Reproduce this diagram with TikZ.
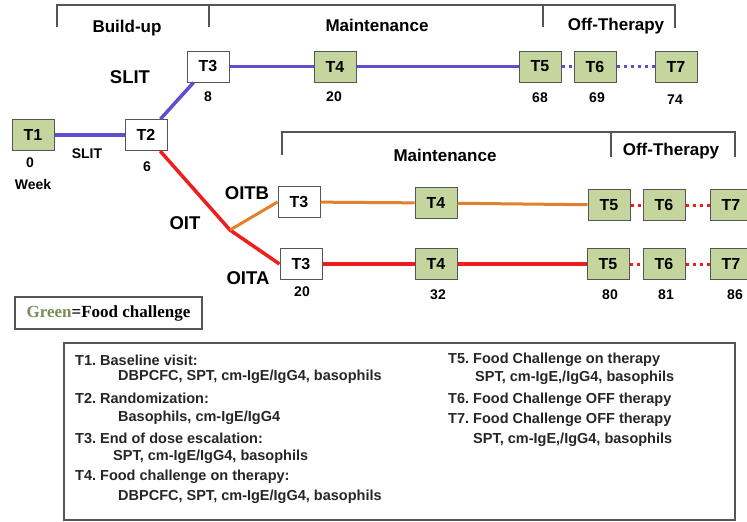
\documentclass[tikz,border=0pt]{standalone}
\usepackage{fontspec}
\setmainfont{Liberation Sans}
\newfontfamily\legendserif{Liberation Serif}
\definecolor{slitblue}{RGB}{92,80,206}
\definecolor{oitred}{RGB}{238,30,30}
\definecolor{oitorange}{RGB}{226,128,46}
\definecolor{fcgreen}{RGB}{196,214,158}
\definecolor{fcword}{RGB}{122,140,90}
\definecolor{framegray}{RGB}{85,85,85}
\frenchspacing
\begin{document}
\begin{tikzpicture}[x=1pt,y=-1pt,
    tbox/.style={draw=framegray,line width=1pt,fill=white,minimum width=42pt,minimum height=31pt,
      inner sep=0pt,font=\fontsize{16}{18}\selectfont\bfseries},
    fcbox/.style={tbox,fill=fcgreen},
    wk/.style={inner sep=1pt,font=\fontsize{14}{16}\selectfont\bfseries},
    arm/.style={inner sep=1pt,font=\fontsize{18.5}{21}\selectfont\bfseries},
    phase/.style={inner sep=1pt,font=\fontsize{17}{20}\selectfont\bfseries},
    note/.style={anchor=west,inner sep=0pt,text=black!85,font=\fontsize{14.5}{17}\selectfont\bfseries},
    bracket/.style={draw=framegray,line width=1.2pt},
    slitline/.style={slitblue,line width=3.5pt},
    slitdots/.style={slitblue,line width=3pt,dash pattern=on 3pt off 4pt},
    redline/.style={oitred,line width=3.5pt},
    orangeline/.style={oitorange,line width=3pt},
    reddots/.style={oitred,line width=3pt,dash pattern=on 3pt off 4pt}]
  \useasboundingbox (0,0) rectangle (747,522);
  \clip (0,0) rectangle (747,522);
  \draw[bracket] (57,27) -- (57,5) -- (675,5) -- (675,28);
  \draw[bracket] (209,5) -- (209,27);
  \draw[bracket] (543,5) -- (543,27);
  \node[phase] (buildup) at (127,28) {Build-up};
  \node[phase] (maint1) at (377,25) {Maintenance};
  \node[phase] (off1) at (616,26) {Off-Therapy};
  \draw[bracket] (282,155) -- (282,132) -- (735,132) -- (735,157);
  \draw[bracket] (611,132) -- (611,157);
  \node[phase] (maint2) at (445,155) {Maintenance};
  \node[phase] (off2) at (671,151) {Off-Therapy};

  \node[fcbox] (T1) at (33,135) {T1};
  \node[tbox] (T2) at (146,135) {T2};
  \node[tbox] (T3s) at (208,66.5) {T3};
  \node[fcbox] (T4s) at (335,66.5) {T4};
  \node[fcbox] (T5s) at (540,66.5) {T5};
  \node[fcbox] (T6s) at (595,66.5) {T6};
  \node[fcbox] (T7s) at (676,66.5) {T7};
  \coordinate (oit) at (230,230);
  \node[tbox] (T3b) at (299,202) {T3};
  \node[fcbox] (T4b) at (436,203) {T4};
  \node[fcbox] (T5b) at (609,205) {T5};
  \node[fcbox] (T6b) at (664,205) {T6};
  \node[fcbox] (T7b) at (731,205) {T7};
  \node[tbox] (T3a) at (301,264) {T3};
  \node[fcbox] (T4a) at (436,264) {T4};
  \node[fcbox] (T5a) at (608,264) {T5};
  \node[fcbox] (T6a) at (664,264) {T6};
  \node[fcbox] (T7a) at (731,264) {T7};

  \draw[slitline] (T1) -- (T2);
  \draw[slitline] (T2) -- (T3s);
  \draw[slitline] (T3s) -- (T4s) -- (T5s);
  \draw[slitdots] (T5s) -- (T6s);
  \draw[slitdots] (T6s) -- (T7s);
  \draw[redline] (T2) -- (oit) -- (T3a.west);
  \draw[orangeline] (oit) -- (T3b.west);
  \draw[orangeline] (T3b) -- (T4b) -- (T5b);
  \draw[reddots] (T5b) -- (T6b);
  \draw[reddots] (T6b) -- (T7b);
  \draw[redline] (T3a) -- (T4a) -- (T5a);
  \draw[reddots] (T5a) -- (T6a);
  \draw[reddots] (T6a) -- (T7a);

  \node[wk] (w0) at (30,163) {0};
  \node[wk] (week) at (33,184) {Week};
  \node[wk] (slitlow) at (87,154) {SLIT};
  \node[wk] (w6) at (147,167) {6};
  \node[arm] (slitup) at (130,77) {SLIT};
  \node[wk] (w8) at (208,97) {8};
  \node[wk] (w20s) at (334,97) {20};
  \node[wk] (w68) at (540,98) {68};
  \node[wk] (w69) at (597,98) {69};
  \node[wk] (w74) at (675,100) {74};
  \node[arm] (oitb) at (247,193) {OITB};
  \node[arm] (oitlab) at (185,223) {OIT};
  \node[arm] (oita) at (248,278) {OITA};
  \node[wk] (w20a) at (302,292) {20};
  \node[wk] (w32) at (438,295) {32};
  \node[wk] (w80) at (610,295) {80};
  \node[wk] (w81) at (666,295) {81};
  \node[wk] (w86) at (735,295) {86};

  \node[draw=framegray,line width=1.2pt,minimum width=187pt,minimum height=32pt,inner sep=0pt,
    font=\legendserif\bfseries\fontsize{17}{20}\selectfont] (legend) at (108.5,313)
    {\textcolor{fcword}{Green}=Food challenge};

  \node[draw=framegray,line width=1.2pt,minimum width=671pt,minimum height=177pt] (notes) at (399.5,431.5) {};
  \foreach \x/\y/\txt [count=\i] in {75/360/{T1. Baseline visit:},
      118/377/{DBPCFC, SPT, cm-IgE/IgG4, basophils},
      75/398/{T2. Randomization:},
      118/418/{Basophils, cm-IgE/IgG4},
      75/438/{T3. End of dose escalation:},
      113/457/{SPT, cm-IgE/IgG4, basophils},
      75/477/{T4. Food challenge on therapy:},
      118/497/{DBPCFC, SPT, cm-IgE/IgG4, basophils},
      448/360/{T5. Food Challenge on therapy},
      475/378/{SPT, cm-IgE,/IgG4, basophils},
      448/400/{T6. Food Challenge OFF therapy},
      448/420/{T7. Food Challenge OFF therapy},
      473/440/{SPT, cm-IgE,/IgG4, basophils}}
    \node[note] (note\i) at (\x,\y) {\txt};
\end{tikzpicture}
\end{document}
